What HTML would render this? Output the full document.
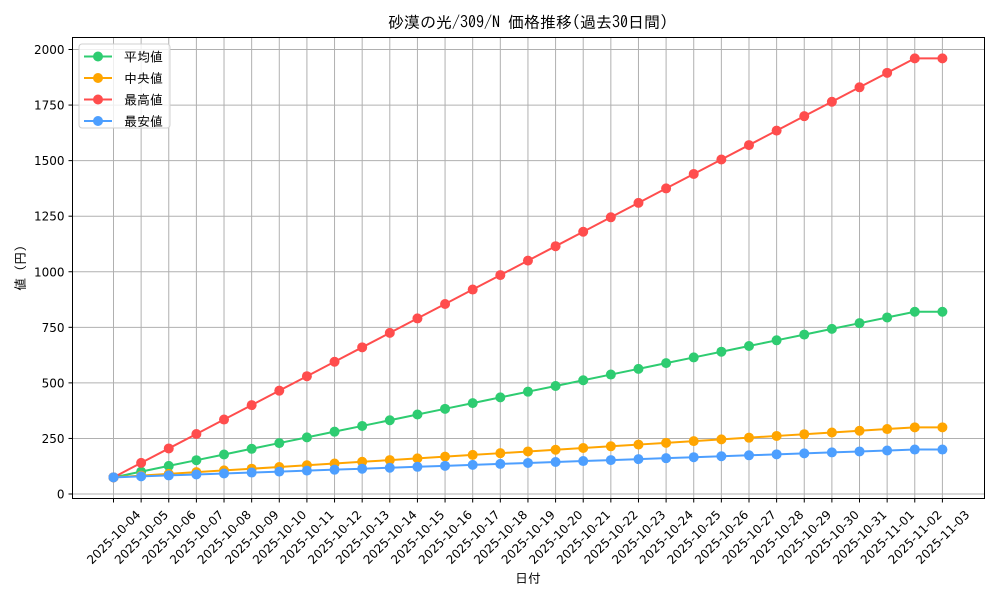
<!DOCTYPE html>
<html><head><meta charset="utf-8"><style>body{margin:0;background:#fff}svg{display:block}text{font-family:"IPAGothic","Liberation Sans","Noto Sans CJK JP",sans-serif;fill:#000}text.t{font-family:"DejaVu Sans","Liberation Sans",sans-serif}</style></head>
<body><svg id="s" width="1000" height="600" xmlns="http://www.w3.org/2000/svg"></svg>
<script>
const s=document.getElementById('s');let h='';
const L=72.5,R=984.5,T=37.5,B=498.5;
const X=i=>113.5+i*27.63, Y=v=>494-v*0.22225;
h+=`<text x="528" y="28" font-size="16" text-anchor="middle">砂漠の光/309/N 価格推移(過去30日間)</text>`;
for(let i=0;i<=30;i++){const x=X(i);h+=`<line x1="${x}" y1="${T}" x2="${x}" y2="${B}" stroke="#b0b0b0" stroke-width="1"/>`;
h+=`<line x1="${x}" y1="${B}" x2="${x}" y2="${B+4}" stroke="#000"/>`;
const d=new Date(Date.UTC(2025,9,4+i));const lab=d.toISOString().slice(0,10);
h+=`<text class="t" transform="translate(${x},${537}) rotate(-45)" font-size="12" text-anchor="middle" dy="4.5">${lab}</text>`;}
for(let v=0;v<=2000;v+=250){const y=Y(v);h+=`<line x1="${L}" y1="${y}" x2="${R}" y2="${y}" stroke="#b0b0b0"/>`;
h+=`<line x1="${L-4}" y1="${y}" x2="${L}" y2="${y}" stroke="#000"/><text class="t" x="${L-8}" y="${y+4.5}" font-size="12" text-anchor="end">${v}</text>`;}
const ser=[["#2ecc71",i=>i<30?75+i*25.69:820],["#ffa500",i=>i<30?75+i*7.76:300],["#ff4d4d",i=>i<30?75+i*65:1960],["#4d9fff",i=>i<30?75+i*4.31:200]];
for(const [c,f] of ser){let p='';let m='';for(let i=0;i<=30;i++){const x=X(i),y=Y(f(i));p+=`${x},${y} `;m+=`<circle cx="${x}" cy="${y}" r="5" fill="${c}"/>`;}
h+=`<polyline points="${p}" fill="none" stroke="${c}" stroke-width="2"/>`+m;}
h+=`<rect x="${L}" y="${T}" width="${R-L}" height="${B-T}" fill="none" stroke="#000" stroke-width="1"/>`;
h+=`<rect x="79" y="44" width="91" height="84" rx="3" fill="#fff" fill-opacity="0.8" stroke="#d0d0d0"/>`;
const nm=["平均値","中央値","最高値","最安値"];
ser.forEach(([c],k)=>{const y=56.5+k*21.5;h+=`<line x1="84" y1="${y}" x2="112" y2="${y}" stroke="${c}" stroke-width="2"/><circle cx="98" cy="${y}" r="5" fill="${c}"/><text x="124" y="${y+5}" font-size="13">${nm[k]}</text>`;});
h+=`<text x="528" y="583" font-size="13" text-anchor="middle">日付</text>`;
h+=`<text transform="translate(25,268) rotate(-90)" font-size="13" text-anchor="middle">値 (円)</text>`;
s.innerHTML=h;
</script></body></html>
